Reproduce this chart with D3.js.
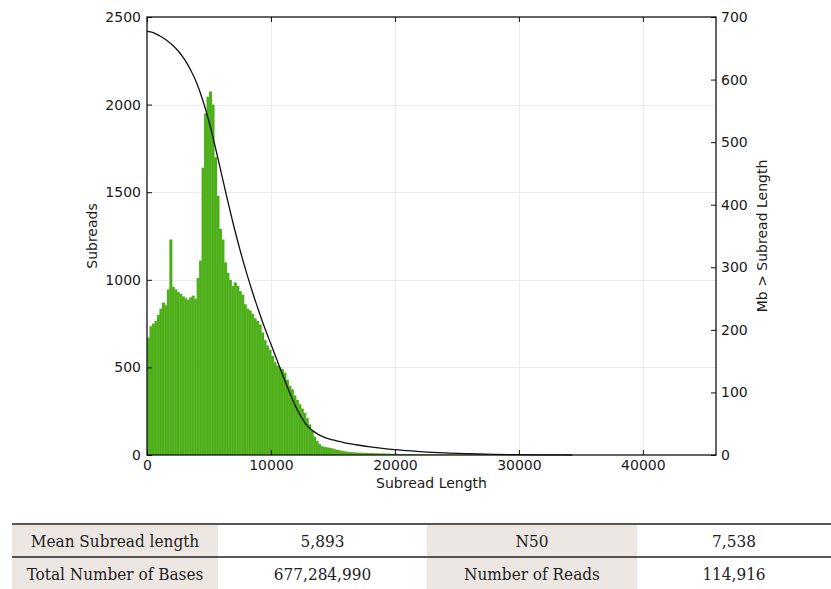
<!DOCTYPE html>
<html>
<head>
<meta charset="utf-8">
<script src="https://cdn.jsdelivr.net/npm/d3@7"></script>
<style>
  html, body { margin: 0; padding: 0; background: #fff; }
  svg { display: block; }
</style>
</head>
<body>
<svg id="chart" width="831" height="589"></svg>
<script>
// Subread length histogram (counts per 200 bp bin, starting at 0 bp)
const binWidth = 200;
const subreadCounts = [
  670, 735, 750, 765, 800, 835, 870, 855, 945, 1230,
  960, 945, 930, 920, 905, 895, 885, 900, 910, 890,
  1010, 1110, 1640, 1950, 2045, 2075, 2000, 1700, 1480, 1290,
  1230, 1100, 1040, 1000, 965, 985, 965, 935, 915, 860,
  835, 825, 805, 780, 765, 745, 700, 655, 625, 600,
  565, 530, 510, 500, 490, 470, 430, 395, 375, 340,
  315, 290, 265, 240, 210, 175, 140, 105, 80, 62,
  50, 46, 44, 41, 38, 33, 30, 27, 24, 21,
  19, 17, 16, 15, 14, 13, 13, 12, 12, 11,
  11, 10, 10, 9, 9, 9, 8, 8, 7, 7,
  7, 6, 6, 6, 5, 5, 5, 5, 4, 4,
  4, 4, 4, 3, 3, 3, 3, 3, 3, 2,
  2, 2, 2, 2, 2, 2, 2, 2, 2, 1,
  1, 1, 1, 1, 1, 1, 1, 1
];

// Megabases contained in subreads longer than a given length
const cumLength = [0, 500, 1000, 1500, 2000, 2500, 3000, 3500, 4000, 4500,
  5000, 5500, 6000, 6500, 7000, 7500, 8000, 8500, 9000, 9500,
  10000, 10500, 11000, 11500, 12000, 12500, 13000, 13500, 14000, 15000,
  16000, 17000, 18000, 19000, 20000, 21000, 22000, 23000, 24000, 26000,
  28000, 30000, 32000, 34300];
const cumMb = [677, 675, 670, 664, 656, 646, 633, 616, 595, 567,
  533, 493, 450, 407, 366, 328, 293, 261, 231, 203,
  177, 151, 125, 100, 77, 59, 45, 37, 31, 24,
  19.5, 16, 13, 10.5, 8.5, 7, 5.5, 4.3, 3.3, 2,
  1, 0.5, 0.2, 0];

const xTicks = [0, 10000, 20000, 30000, 40000];
const leftTicks = [0, 500, 1000, 1500, 2000, 2500];
const rightTicks = [0, 100, 200, 300, 400, 500, 600, 700];

// Summary statistics table
const statRows = [
  ["Mean Subread length", "5,893", "N50", "7,538"],
  ["Total Number of Bases", "677,284,990", "Number of Reads", "114,916"]
];

const svg = d3.select("#chart");
const plot = { left: 147, right: 716, top: 17, bottom: 455 };

const x = d3.scaleLinear().domain([0, 45900]).range([plot.left, plot.right]);
const yL = d3.scaleLinear().domain([0, 2500]).range([plot.bottom, plot.top]);
const yR = d3.scaleLinear().domain([0, 700]).range([plot.bottom, plot.top]);

const tickFont = "DejaVu Sans, sans-serif";

// grid
const grid = svg.append("g").attr("stroke", "#ebebeb").attr("stroke-width", 1);
grid.selectAll("line.gx").data(xTicks.slice(1)).join("line")
  .attr("x1", d => Math.round(x(d)) + 0.5).attr("x2", d => Math.round(x(d)) + 0.5)
  .attr("y1", plot.top).attr("y2", plot.bottom);
grid.selectAll("line.gy").data(leftTicks.slice(1, -1)).join("line")
  .attr("x1", plot.left).attr("x2", plot.right)
  .attr("y1", d => Math.round(yL(d)) + 0.5).attr("y2", d => Math.round(yL(d)) + 0.5);

// histogram bars (slight overlap so neighbours join without seams)
const bars = svg.append("g");
bars.selectAll("rect").data(subreadCounts).join("rect")
  .attr("x", (d, i) => x(i * binWidth))
  .attr("width", (d, i) => x((i + 1) * binWidth) - x(i * binWidth) + 0.6)
  .attr("y", d => yL(d))
  .attr("height", d => yL(0) - yL(d))
  .attr("fill", "#4daf18");
// faint light edges between neighbouring bars
bars.selectAll("line").data(subreadCounts).join("line")
  .attr("x1", (d, i) => x(i * binWidth)).attr("x2", (d, i) => x(i * binWidth))
  .attr("y1", d => yL(d)).attr("y2", yL(0))
  .attr("stroke", "#ffffff").attr("stroke-opacity", 0.14).attr("stroke-width", 0.5);

// cumulative yield curve
const curve = d3.line()
  .x(d => x(d[0]))
  .y(d => yR(d[1]))
  .curve(d3.curveMonotoneX);
svg.append("path")
  .datum(cumLength.map((l, i) => [l, cumMb[i]]))
  .attr("fill", "none")
  .attr("stroke", "#111")
  .attr("stroke-width", 1.3)
  .attr("d", curve);

// axes (ticks point inward)
function styleAxis(g) {
  g.select(".domain").remove();
  g.selectAll("text").attr("font-family", tickFont).attr("font-size", 14).attr("fill", "#1a1a1a");
  g.selectAll(".tick line").attr("stroke", "#111");
}
svg.append("g").attr("transform", `translate(0,${plot.bottom})`)
  .call(d3.axisBottom(x).tickValues(xTicks).tickFormat(d3.format("d")).tickSize(-5).tickPadding(5))
  .call(styleAxis);
svg.append("g").attr("transform", `translate(0,${plot.top})`)
  .call(d3.axisTop(x).tickValues(xTicks).tickFormat("").tickSize(-5))
  .call(styleAxis);
svg.append("g").attr("transform", `translate(${plot.left},0)`)
  .call(d3.axisLeft(yL).tickValues(leftTicks).tickFormat(d3.format("d")).tickSize(-5).tickPadding(6))
  .call(styleAxis);
svg.append("g").attr("transform", `translate(${plot.right},0)`)
  .call(d3.axisRight(yR).tickValues(rightTicks).tickFormat(d3.format("d")).tickSize(-5).tickPadding(5))
  .call(styleAxis);

// frame
svg.append("rect")
  .attr("x", plot.left).attr("y", plot.top)
  .attr("width", plot.right - plot.left).attr("height", plot.bottom - plot.top)
  .attr("fill", "none").attr("stroke", "#111").attr("stroke-width", 1.3);

// axis titles
svg.append("text")
  .attr("x", (plot.left + plot.right) / 2).attr("y", 488)
  .attr("text-anchor", "middle").attr("font-family", tickFont).attr("font-size", 14).attr("fill", "#1a1a1a")
  .text("Subread Length");
svg.append("text")
  .attr("transform", `translate(97,${(plot.top + plot.bottom) / 2}) rotate(-90)`)
  .attr("text-anchor", "middle").attr("font-family", tickFont).attr("font-size", 14).attr("fill", "#1a1a1a")
  .text("Subreads");
svg.append("text")
  .attr("transform", `translate(767,${(plot.top + plot.bottom) / 2}) rotate(-90)`)
  .attr("text-anchor", "middle").attr("font-family", tickFont).attr("font-size", 14).attr("fill", "#1a1a1a")
  .text("Mb > Subread Length");

// statistics table
const table = { left: 12, right: 831, top: 524, rowH: 33 };
const colEdges = [12, 218, 427, 637, 831];
const tg = svg.append("g");
statRows.forEach((row, r) => {
  const y0 = table.top + r * table.rowH;
  row.forEach((cell, c) => {
    if (c % 2 === 0) {
      tg.append("rect")
        .attr("x", colEdges[c]).attr("y", y0)
        .attr("width", colEdges[c + 1] - colEdges[c]).attr("height", table.rowH)
        .attr("fill", "#ece7e2");
    }
    tg.append("text")
      .attr("x", (colEdges[c] + colEdges[c + 1]) / 2)
      .attr("y", y0 + table.rowH / 2 + 6)
      .attr("text-anchor", "middle")
      .attr("font-family", "DejaVu Serif Condensed, DejaVu Serif, serif")
      .attr("font-size", 17)
      .attr("fill", "#222")
      .text(cell);
  });
});
tg.append("line").attr("x1", table.left).attr("x2", table.right)
  .attr("y1", table.top).attr("y2", table.top)
  .attr("stroke", "#555").attr("stroke-width", 2);
tg.append("line").attr("x1", table.left).attr("x2", table.right)
  .attr("y1", table.top + table.rowH).attr("y2", table.top + table.rowH)
  .attr("stroke", "#222").attr("stroke-width", 1.5);
</script>
</body>
</html>
